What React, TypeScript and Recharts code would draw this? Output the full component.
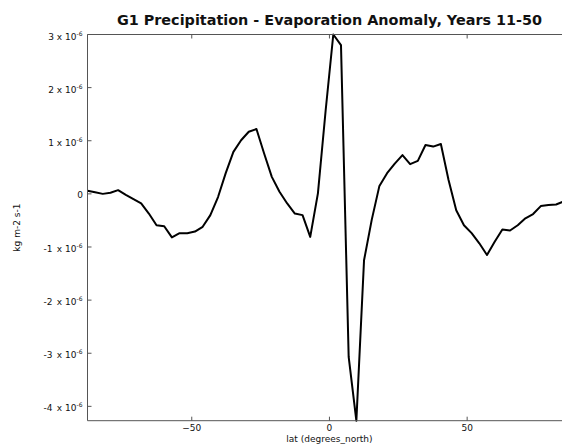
import { LineChart, Line, XAxis, YAxis, Label } from 'recharts';

// T42 Gaussian latitudes, south to north
const lat = [
  -87.86, -85.1, -82.31, -79.53, -76.74, -73.95, -71.16, -68.37, -65.58, -62.79, -60.0,
  -57.21, -54.42, -51.63, -48.84, -46.04, -43.25, -40.46, -37.67, -34.88, -32.09, -29.3,
  -26.51, -23.72, -20.93, -18.14, -15.35, -12.56, -9.77, -6.98, -4.19, -1.4,
  1.4, 4.19, 6.98, 9.77, 12.56, 15.35, 18.14, 20.93, 23.72, 26.51, 29.3, 32.09, 34.88,
  37.67, 40.46, 43.25, 46.04, 48.84, 51.63, 54.42, 57.21, 60.0, 62.79, 65.58, 68.37,
  71.16, 73.95, 76.74, 79.53, 82.31, 85.1, 87.86,
];

// zonal mean P-E anomaly, in units of 1e-6 kg m-2 s-1
const pe = [
  0.06, 0.03, 0.0, 0.02, 0.07, -0.02, -0.1, -0.18, -0.37, -0.59, -0.61,
  -0.82, -0.74, -0.74, -0.71, -0.62, -0.4, -0.06, 0.39, 0.79, 1.01, 1.17,
  1.22, 0.76, 0.32, 0.04, -0.18, -0.37, -0.4, -0.81, 0.01, 1.56,
  3.0, 2.8, -3.07, -4.27, -1.25, -0.49, 0.15, 0.39, 0.57, 0.73, 0.56, 0.62, 0.92,
  0.89, 0.94, 0.26, -0.31, -0.59, -0.74, -0.93, -1.15, -0.9, -0.67, -0.69, -0.59,
  -0.46, -0.38, -0.23, -0.21, -0.2, -0.14, -0.1,
];

const latTicks = [-50, 0, 50];
const peTicks = [-4, -3, -2, -1, 0, 1, 2, 3];

const data = lat.map((la, i) => ({ lat: la, pe: pe[i] }));

const AXIS = '#555';
const INK = '#111';
const FONT = '"DejaVu Sans", sans-serif';

// matplotlib-style ticks: short marks pointing into the plot
const LatTick = ({ x, y, payload }: any) => (
  <g>
    <line x1={x} x2={x} y1={y} y2={y - 4} stroke={AXIS} />
    <text x={x} y={y + 10.5} textAnchor="middle" fontSize={9} fill={INK} fontFamily={FONT}>
      {payload.value < 0 ? `\u2212${-payload.value}` : payload.value}
    </text>
  </g>
);

const TopTick = ({ x, y }: any) => (
  <line x1={x} x2={x} y1={y} y2={y + 4} stroke={AXIS} />
);

const PeTick = ({ x, y, payload }: any) => {
  const v = payload.value;
  return (
    <g>
      <line x1={x} x2={x + 4} y1={y} y2={y} stroke={AXIS} />
      {v === 0 ? (
        <text x={x - 4.5} y={y + 4.5} textAnchor="end" fontSize={9} fill={INK} fontFamily={FONT}>
          0
        </text>
      ) : (
        <text x={x - 5} y={y + 5} textAnchor="end" fontSize={9} fill={INK} fontFamily={FONT}>
          {v < 0 ? `${v}\u2002x 10` : `${v} x 10`}
          <tspan dy={-4} fontSize={6}>-6</tspan>
        </text>
      )}
    </g>
  );
};

export default function App() {
  const latDomain = [lat[0], lat[lat.length - 1]];
  return (
    <div style={{ position: 'absolute', left: 0, top: 0, width: 562, height: 446, overflow: 'hidden', background: '#fff' }}>
      <div
        style={{
          position: 'absolute',
          left: 87.5,
          width: 484,
          top: 12,
          textAlign: 'center',
          fontFamily: FONT,
          fontSize: 14.4,
          fontWeight: 'bold',
          color: INK,
          lineHeight: '17px',
          whiteSpace: 'nowrap',
        }}
      >
        G1 Precipitation - Evaporation Anomaly, Years 11-50
      </div>
      <LineChart
        width={600}
        height={446}
        data={data}
        margin={{ top: 33.5, right: 28.6, bottom: 0, left: 0 }}
      >
        <XAxis
          dataKey="lat"
          type="number"
          domain={latDomain}
          ticks={latTicks}
          interval={0}
          height={25.3}
          tickLine={false}
          tickSize={0}
          tickMargin={0}
          tick={<LatTick />}
          axisLine={{ stroke: AXIS }}
        >
          <Label
            content={({ viewBox }: any) => (
              <text
                x={viewBox.x + viewBox.width / 2}
                y={442}
                textAnchor="middle"
                fontSize={9}
                fill={INK}
                fontFamily={FONT}
              >
                lat (degrees_north)
              </text>
            )}
          />
        </XAxis>
        <XAxis
          xAxisId="top"
          orientation="top"
          dataKey="lat"
          type="number"
          domain={latDomain}
          ticks={latTicks}
          interval={0}
          height={1}
          tickLine={false}
          tickSize={0}
          tickMargin={0}
          tick={<TopTick />}
          axisLine={{ stroke: AXIS }}
        />
        <YAxis
          type="number"
          domain={['dataMin', 'dataMax']}
          ticks={peTicks}
          interval={0}
          width={87.5}
          tickLine={false}
          tickSize={0}
          tickMargin={0}
          tick={<PeTick />}
          axisLine={{ stroke: AXIS }}
        >
          <Label
            content={({ viewBox }: any) => {
              const cy = viewBox.y + viewBox.height / 2;
              return (
                <text
                  x={17}
                  y={cy}
                  transform={`rotate(-90 17 ${cy})`}
                  textAnchor="middle"
                  dominantBaseline="central"
                  fontSize={9}
                  fill={INK}
                  fontFamily={FONT}
                >
                  kg m-2 s-1
                </text>
              );
            }}
          />
        </YAxis>
        <Line
          type="linear"
          dataKey="pe"
          stroke="#000"
          strokeWidth={2}
          strokeLinejoin="round"
          dot={false}
          isAnimationActive={false}
        />
      </LineChart>
    </div>
  );
}
